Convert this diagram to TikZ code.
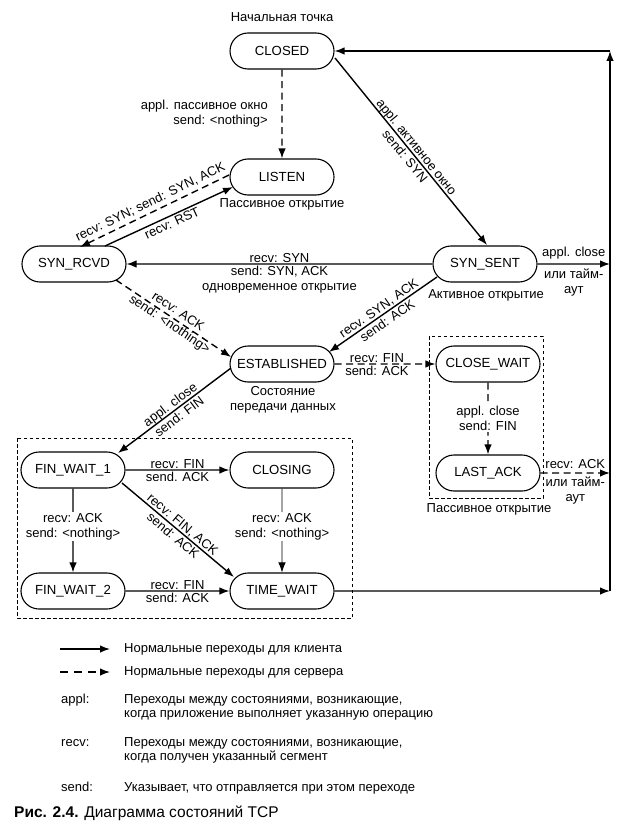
\documentclass[tikz,border=0pt]{standalone}
\usepackage{fontspec}
\setmainfont{Liberation Sans}
\usetikzlibrary{arrows.meta,shapes.misc}
\begin{document}
\begin{tikzpicture}[x=1pt,y=-1pt,
  state/.style={draw, line width=1.1pt, rounded rectangle, minimum width=104pt, minimum height=36pt, inner sep=0pt, font=\fontsize{13.2}{15}\selectfont},
  tr/.style={line width=1.4pt, -{Latex[length=10pt,width=7.5pt]}},
  srv/.style={tr, dash pattern=on 7pt off 4.5pt},
  lbl/.style={font=\fontsize{13}{15}\selectfont, inner sep=1.5pt, align=center},
  grp/.style={draw, line width=0.9pt, dash pattern=on 3.5pt off 2.5pt},
  leg/.style={font=\fontsize{13}{15}\selectfont, inner sep=0pt, text height=9.5pt, text depth=2.5pt, anchor=west}
]
\useasboundingbox (0,0) rectangle (625,829);

% groups
\draw[grp] (17,438) rectangle (352,618);
\draw[grp] (429,336) rectangle (543,498);

% states
\node[state] (closed) at (282,51) {CLOSED};
\node[state] (listen) at (282,177) {LISTEN};
\node[state] (synrcvd) at (74,264) {SYN\_RCVD};
\node[state] (synsent) at (485,264) {SYN\_SENT};
\node[state] (estab) at (282,364) {ESTABLISHED};
\node[state] (closewait) at (488,364) {CLOSE\_WAIT};
\node[state] (lastack) at (488,473) {LAST\_ACK};
\node[state] (finwait1) at (73,470) {FIN\_WAIT\_1};
\node[state] (closing) at (282,470) {CLOSING};
\node[state] (finwait2) at (73,591) {FIN\_WAIT\_2};
\node[state] (timewait) at (282,591) {TIME\_WAIT};

% captions near states
\node[lbl] (start) at (282,17) {Начальная точка};
\node[lbl] (pasv1) at (282,204) {Пассивное открытие};
\node[lbl] (actv) at (486,295) {Активное открытие};
\node[lbl] (datast) at (283,400) {Состояние\\передачи данных};
\node[lbl] (pasv2) at (489,509) {Пассивное открытие};

% right-side return line
\coordinate (rTop) at (610,51);
\coordinate (rSS) at (610,264);
\coordinate (rLA) at (610,473);
\coordinate (rTW) at (610,591);

% transitions
\draw[srv] (closed) -- node[lbl, midway, left=12pt, align=right] {appl. пассивное окно\\send: <nothing>} (listen);
\draw[tr] ([shift={(53,7)}]closed.center) -- node[lbl, sloped] {appl. активное окно\\send: SYN} ([shift={(2,-19)}]synsent.center);
\draw[srv] ([shift={(-53,-2)}]listen.center) -- node[lbl, sloped, above, inner sep=3.5pt] {recv: SYN; send: SYN, ACK} ([shift={(6,-17)}]synrcvd.center);
\draw[tr] ([shift={(31,-18)}]synrcvd.center) -- node[lbl, sloped, below, inner sep=2pt] {recv: RST} ([shift={(-49,10)}]listen.center);
\draw[tr] (synsent) -- node[lbl, above, inner sep=1pt] {recv: SYN} node[lbl, below, inner sep=1pt] {send: SYN, ACK\\одновременное открытие} (synrcvd);
\draw[srv] ([shift={(42,16)}]synrcvd.center) -- node[lbl, sloped] {recv: ACK\\send: <nothing>} ([shift={(-51,-7)}]estab.center);
\draw[tr] ([shift={(-48,13)}]synsent.center) -- node[lbl, sloped] {recv. SYN, ACK\\send: ACK} ([shift={(47,-12)}]estab.center);
\draw[srv] (estab) -- node[lbl, pos=0.42, above, inner sep=1pt] {recv: FIN} node[lbl, pos=0.42, below, inner sep=1pt] {send: ACK} (closewait);
\draw[tr] ([shift={(-51,4)}]estab.center) -- node[lbl, sloped] {appl. close\\send: FIN} ([shift={(45,-17)}]finwait1.center);
\draw[srv] (closewait) -- node[lbl, fill=white, inner sep=1pt] {appl. close\\send: FIN} (lastack);
\draw[tr] (synsent) -- node[lbl, above, inner sep=4pt] {appl. close} node[lbl, below, inner sep=4pt] {или тайм-\\аут} (rSS);
\draw[srv] (lastack) -- node[lbl, above, inner sep=4pt] {recv: ACK} node[lbl, below, inner sep=3pt] {или тайм-\\аут} (rLA);
\draw[tr] (finwait1) -- node[lbl, above, inner sep=1pt] {recv: FIN} node[lbl, below, inner sep=1pt] {send. ACK} (closing);
\draw[tr] (finwait1) -- node[lbl, fill=white, inner sep=1pt, pos=0.45] {recv: ACK\\send: <nothing>} (finwait2);
\draw[tr, line width=0.8pt] (closing) -- node[lbl, fill=white, inner sep=1pt, pos=0.45] {recv: ACK\\send: <nothing>} (timewait);
\draw[tr] ([shift={(49,13)}]finwait1.center) -- node[lbl, sloped] {recv: FIN, ACK\\send: ACK} ([shift={(-48,-14)}]timewait.center);
\draw[tr] (finwait2) -- node[lbl, above, inner sep=1pt] {recv: FIN} node[lbl, below, inner sep=1pt] {send: ACK} (timewait);
\draw[tr] (timewait) -- (rTW);
\draw[tr] (rTW) -- (rTop);
\draw[tr] (rTop) -- (closed.east);

% legend
\coordinate (l1a) at (60,649); \coordinate (l1b) at (110,649);
\coordinate (l2a) at (60,672); \coordinate (l2b) at (110,672);
\draw[tr] (l1a) -- (l1b);
\draw[srv, dash pattern=on 8pt off 6pt] (l2a) -- (l2b);
\node[leg] (l1t) at (124,649) {Нормальные переходы для клиента};
\node[leg] (l2t) at (124,672) {Нормальные переходы для сервера};
\node[leg] (k1) at (61,700) {appl:};
\node[leg] (k1a) at (124,700) {Переходы между состояниями, возникающие,};
\node[leg] (k1b) at (124,714) {когда приложение выполняет указанную операцию};
\node[leg] (k2) at (61,743) {recv:};
\node[leg] (k2a) at (124,743) {Переходы между состояниями, возникающие,};
\node[leg] (k2b) at (124,757) {когда получен указанный сегмент};
\node[leg] (k3) at (61,788) {send:};
\node[leg] (k3a) at (124,788) {Указывает, что отправляется при этом переходе};
\node[anchor=west, inner sep=0pt, font=\fontsize{15.5}{17}\selectfont] (cap) at (14,813) {\textbf{Рис. 2.4.} Диаграмма состояний TCP};
\end{tikzpicture}
\end{document}
